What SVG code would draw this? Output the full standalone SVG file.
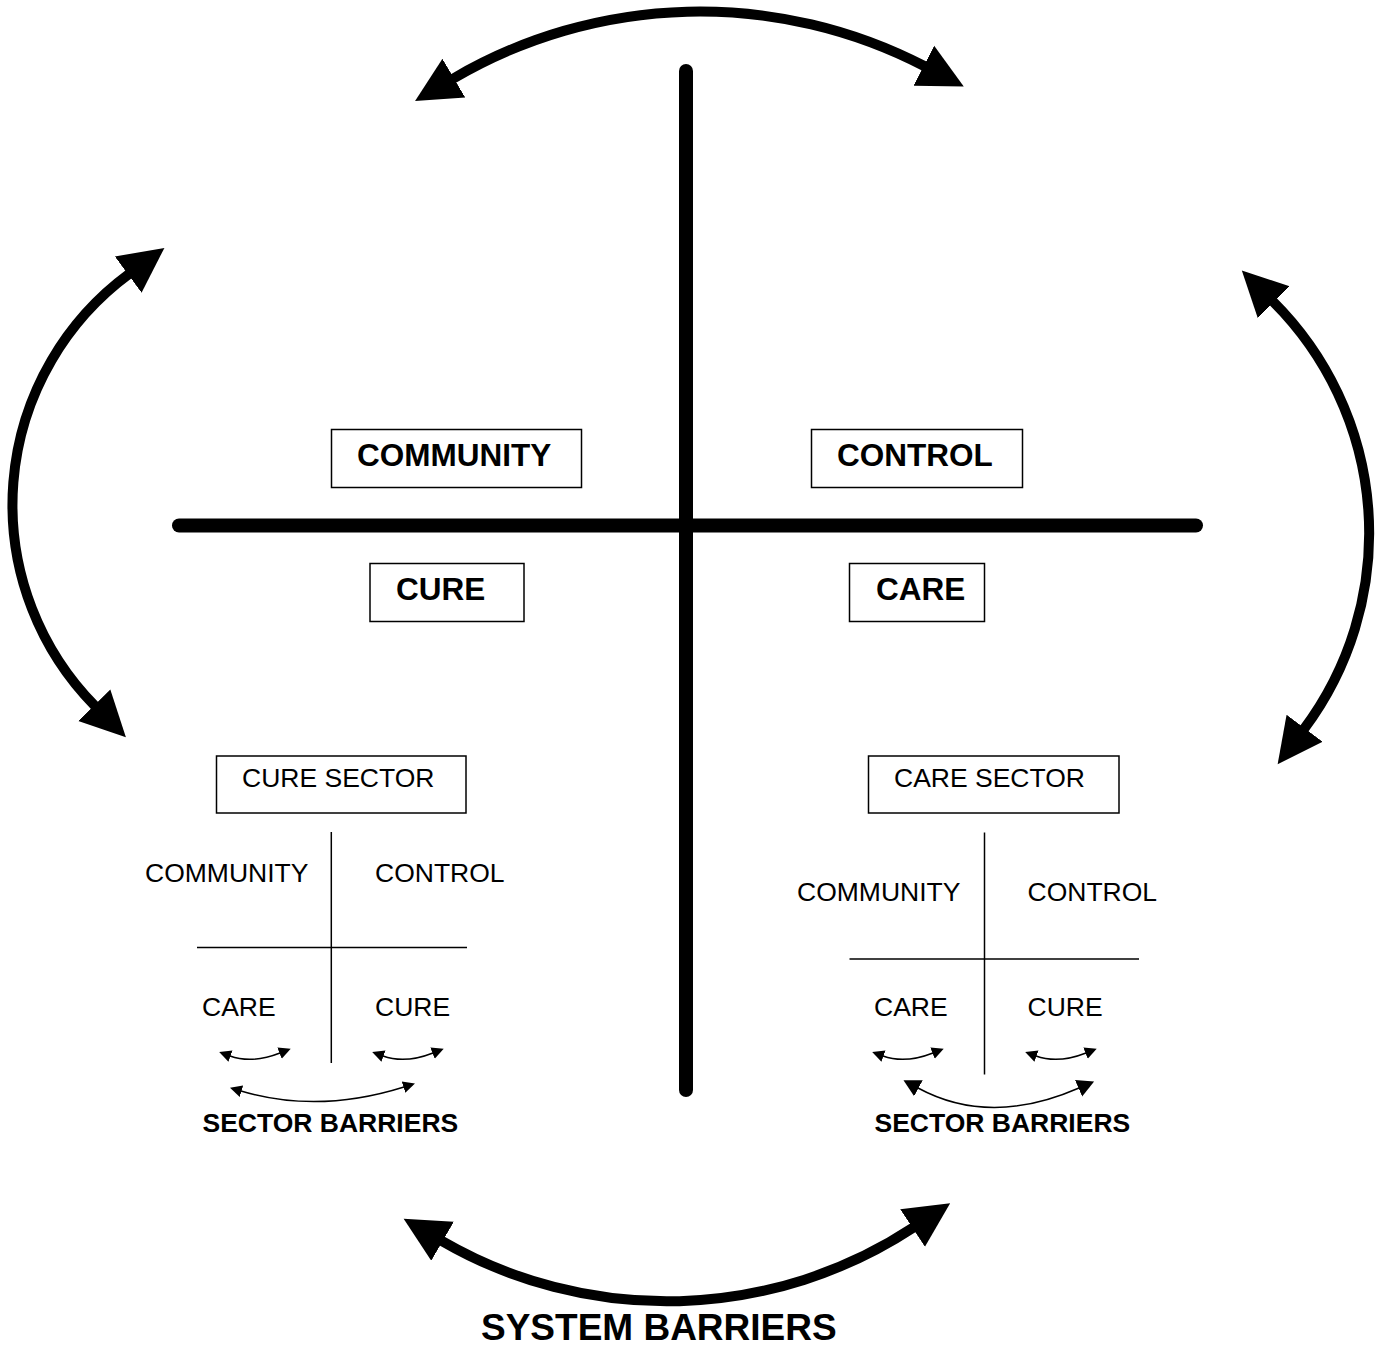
<svg xmlns="http://www.w3.org/2000/svg" width="1379" height="1348" viewBox="0 0 1379 1348">
<style>
.bg{fill:#fff}
.box{fill:none;stroke:#000;stroke-width:1.5}
.thin{fill:none;stroke:#000;stroke-width:1.5}
.axis{fill:none;stroke:#000;stroke-width:14;stroke-linecap:round}
.big{fill:none;stroke:#000;stroke-width:10;marker-start:url(#hb);marker-end:url(#hb)}
.sm{fill:none;stroke:#000;stroke-width:1.5;marker-start:url(#hs);marker-end:url(#hs)}
.md{fill:none;stroke:#000;stroke-width:1.5;marker-start:url(#hm);marker-end:url(#hm)}
text{font-family:"Liberation Sans",Arial,sans-serif;fill:#000}
.tb{font-weight:bold;font-size:31.5px}
.tr{font-size:26.5px}
.ts{font-weight:bold;font-size:26.5px}
.tt{font-weight:bold;font-size:37px}
</style>
<defs>
<marker id="hb" viewBox="0 -24 47 48" markerWidth="47" markerHeight="48" refX="1" refY="0" orient="auto-start-reverse" markerUnits="userSpaceOnUse"><path d="M0,-22.5 L45,0 L0,22.5 Z" fill="#000"/></marker>
<marker id="hs" viewBox="0 -7 13 14" markerWidth="13" markerHeight="14" refX="0.5" refY="0" orient="auto-start-reverse" markerUnits="userSpaceOnUse"><path d="M0,-6 L12,0 L0,6 Z" fill="#000"/></marker>
<marker id="hm" viewBox="0 -10 18 20" markerWidth="18" markerHeight="20" refX="0.5" refY="0" orient="auto-start-reverse" markerUnits="userSpaceOnUse"><path d="M0,-9 L17,0 L0,9 Z" fill="#000"/></marker>
</defs>
<rect class="bg" x="0" y="0" width="1379" height="1348"/>

<g id="connectors">
<path class="big" d="M453,78.7 A487.7,487.7 0 0 1 924.7,66.3"/>
<path class="big" d="M129,274 A286.7,286.7 0 0 0 95,706"/>
<path class="big" d="M1273,301.5 A327,327 0 0 1 1304,729"/>
<path class="big" d="M441.7,1240.8 A448.7,448.7 0 0 0 913.4,1227.5"/>
<path class="sm" d="M230,1056 Q252,1064 280,1053"/>
<path class="sm" d="M383,1056 Q405,1064 433,1053"/>
<path class="sm" d="M241,1091 Q318,1114 404,1087"/>
<path class="sm" d="M883,1056 Q905,1064 933,1053"/>
<path class="sm" d="M1036,1056 Q1058,1064 1086,1053"/>
<path class="md" d="M918,1088 Q990,1127 1079,1088"/>
</g>

<g id="main-axes">
<line class="axis" x1="686" y1="71" x2="686" y2="1090"/>
<line class="axis" x1="179" y1="525.5" x2="1196" y2="525.5"/>
</g>

<g id="node-community">
<rect class="box" x="331.5" y="429.5" width="250" height="58"/>
<text class="tb" x="357" y="466">COMMUNITY</text>
</g>
<g id="node-control">
<rect class="box" x="811.5" y="429.5" width="211" height="58"/>
<text class="tb" x="837" y="466">CONTROL</text>
</g>
<g id="node-cure">
<rect class="box" x="370" y="563.5" width="154" height="58"/>
<text class="tb" x="396" y="599.5">CURE</text>
</g>
<g id="node-care">
<rect class="box" x="849.5" y="563.5" width="135" height="58"/>
<text class="tb" x="876" y="599.5">CARE</text>
</g>

<g id="cure-sector">
<rect class="box" x="216.5" y="756" width="249.5" height="57"/>
<text class="tr" x="242" y="787">CURE SECTOR</text>
<line class="thin" x1="331.3" y1="832" x2="331.3" y2="1063"/>
<line class="thin" x1="197" y1="947.5" x2="467" y2="947.5"/>
<text class="tr" x="145" y="882">COMMUNITY</text>
<text class="tr" x="375" y="882">CONTROL</text>
<text class="tr" x="202" y="1016">CARE</text>
<text class="tr" x="375" y="1016">CURE</text>
<text class="ts" x="202.5" y="1132">SECTOR BARRIERS</text>
</g>

<g id="care-sector">
<rect class="box" x="868.5" y="756" width="250.5" height="57"/>
<text class="tr" x="894" y="787">CARE SECTOR</text>
<line class="thin" x1="984.5" y1="832.5" x2="984.5" y2="1074.5"/>
<line class="thin" x1="849.5" y1="959" x2="1139" y2="959"/>
<text class="tr" x="797" y="901">COMMUNITY</text>
<text class="tr" x="1027.5" y="901">CONTROL</text>
<text class="tr" x="874" y="1016">CARE</text>
<text class="tr" x="1027.5" y="1016">CURE</text>
<text class="ts" x="874.5" y="1132">SECTOR BARRIERS</text>
</g>

<g id="system-barriers">
<text class="tt" x="481" y="1340">SYSTEM BARRIERS</text>
</g>
</svg>
